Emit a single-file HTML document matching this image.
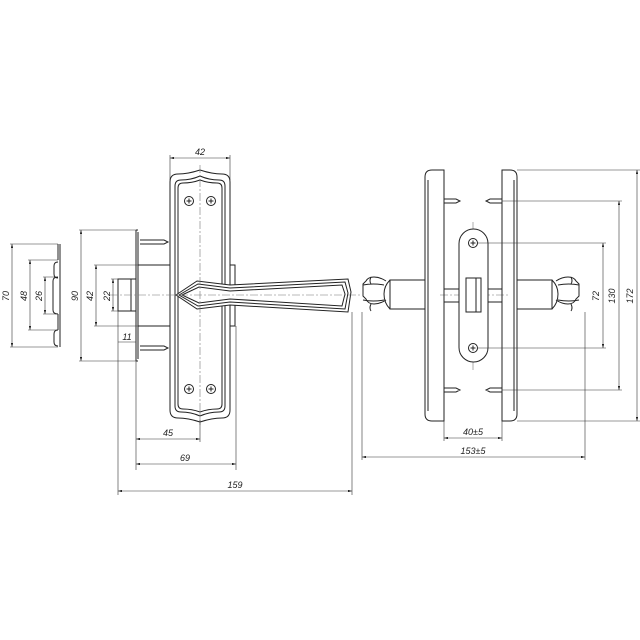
<!DOCTYPE html>
<html><head><meta charset="utf-8"><style>
html,body{margin:0;padding:0;background:#fff}
svg{display:block}
text{font-family:"Liberation Sans",sans-serif;font-style:italic;font-size:9px;fill:#222}
</style></head><body>
<svg width="640" height="640" viewBox="0 0 640 640" xmlns="http://www.w3.org/2000/svg">
<defs>
<marker id="a" viewBox="0 0 10 6" refX="10" refY="3" markerWidth="7" markerHeight="4" orient="auto-start-reverse"><path d="M0,0 L10,3 L0,6 z" fill="#222"/></marker>
<g id="scr"><circle r="4.5" fill="#fff" stroke="#222" stroke-width="1"/><path d="M-2.5,0H2.5M0,-2.5V2.5" stroke="#222" stroke-width="1"/></g>
</defs>
<g fill="none" stroke="#222" stroke-width="1">
<path d="M60,244 V347 M58,244 V260 M58,262 q-4,0 -4,4 v8 q0,4 4,4 M58,277 q-5,0 -5,4 v29 q0,4 5,4 M58,314 V330 M58,330 q-4,0 -4,4 v8 q0,4 4,4"/>
<path d="M170,182 q0,-8 8,-8 q10,0 22,-4 q12,4 22,4 q8,0 8,8 V410 q0,8 -8,8 q-10,0 -22,4 q-12,-4 -22,-4 q-8,0 -8,-8 Z"/>
<path d="M175,186 q0,-6 6,-6 q10,0 19,-4 q9,4 19,4 q6,0 6,6 V406 q0,6 -6,6 q-10,0 -19,4 q-9,-4 -19,-4 q-6,0 -6,-6 Z"/>
<path d="M178,188 q0,-5 5,-5 q9,0 17,-3 q8,3 17,3 q5,0 5,5 V404 q0,5 -5,5 q-9,0 -17,3 q-8,-3 -17,-3 q-5,0 -5,-5 Z"/>
<path d="M230,265 h5 v61 h-5"/>
<path d="M136,230 V361 M138,232 V359 M136,230 h2 M136,361 h2"/>
<path d="M140,240 H164 l4,2 l-4,2 H140 M140,346 H164 l4,2 l-4,2 H140"/>
<path d="M138,265 H170 M138,326 H170 M118,279 H136 V311 H118 Z M131,279 V311"/>
<path d="M176,295 L197,281 L230,285 L348,279 L351,292 L348,312 L230,305 L197,309 Z" fill="#fff"/>
<path d="M179,295 L198,284 L230,288 L345,282 L348,293 L345,309 L230,302 L198,306 Z"/>
<path d="M182,295 L199,287 L230,291 L342,285 L345,294 L342,306 L230,299 L199,303 Z"/>
</g>
<use href="#scr" x="189" y="201"/><use href="#scr" x="211" y="201"/>
<use href="#scr" x="189" y="389"/><use href="#scr" x="211" y="389"/>
<g stroke="#777" stroke-width="0.6" stroke-dasharray="8,2,2,2" fill="none">
<path d="M200,165 V425 M110,295 H360"/>
<path d="M473,222 V370 M440,295 H510"/>
</g>
<g stroke="#333" stroke-width="0.6" fill="none">
<path d="M10,244 H58 M10,347 H58 M28,260 H58 M28,330 H58 M43,277 H56 M43,314 H56"/>
<path d="M79,230 H136 M79,361 H136 M94,265 H138 M94,326 H138 M111,279 H118 M111,311 H118"/>
<path d="M170,155 V180 M230,155 V180"/>
<path d="M118,311 V495 M136,361 V470 M236,326 V470 M200,420 V442 M352,312 V495"/>
<path d="M12,244 V347" marker-start="url(#a)" marker-end="url(#a)"/>
<path d="M30,260 V330" marker-start="url(#a)" marker-end="url(#a)"/>
<path d="M45,277 V314" marker-start="url(#a)" marker-end="url(#a)"/>
<path d="M81,230 V361" marker-start="url(#a)" marker-end="url(#a)"/>
<path d="M96,265 V326" marker-start="url(#a)" marker-end="url(#a)"/>
<path d="M113,279 V311" marker-start="url(#a)" marker-end="url(#a)"/>
<path d="M170,158 H230" marker-start="url(#a)" marker-end="url(#a)"/>
<path d="M118,342 H136"/>
<path d="M136,439 H200" marker-start="url(#a)" marker-end="url(#a)"/>
<path d="M136,464 H236" marker-start="url(#a)" marker-end="url(#a)"/>
<path d="M118,491 H352" marker-start="url(#a)" marker-end="url(#a)"/>
</g>
<text transform="translate(9,296) rotate(-90)" text-anchor="middle">70</text>
<text transform="translate(27,296) rotate(-90)" text-anchor="middle">48</text>
<text transform="translate(42,296) rotate(-90)" text-anchor="middle">26</text>
<text transform="translate(78,296) rotate(-90)" text-anchor="middle">90</text>
<text transform="translate(93,296) rotate(-90)" text-anchor="middle">42</text>
<text transform="translate(110,296) rotate(-90)" text-anchor="middle">22</text>
<text x="200" y="155" text-anchor="middle">42</text>
<text x="127" y="340" text-anchor="middle">11</text>
<text x="168" y="436" text-anchor="middle">45</text>
<text x="185" y="461" text-anchor="middle">69</text>
<text x="235" y="488" text-anchor="middle">159</text>
<g fill="none" stroke="#222" stroke-width="1">
<path d="M444,170 H432 q-7,0 -7,7 V414 q0,7 7,7 H444 Z M428,180 V411"/>
<path d="M502,170 H510 q7,0 7,7 V414 q0,7 -7,7 H502 Z M514,180 V411"/>
<path d="M444,289 H459 M488,289 H502 M444,302 H459 M488,302 H502"/>
<path d="M444,199 H456 l4,2 l-4,2 H444 M502,199 H490 l-4,2 l4,2 H502 M444,388 H456 l4,2 l-4,2 H444 M502,388 H490 l-4,2 l4,2 H502"/>
<rect x="459" y="229" width="29" height="133" rx="14.5" fill="#fff"/>
<rect x="466" y="278" width="15" height="34" fill="#fff"/>
<path d="M476,278 V312"/>
<!-- left knob -->
<path d="M425,280 H390 V309 H425"/>
<path d="M390,280 q-6,6 -6,14 q0,9 6,15"/>
<path d="M386,281 q-6,-4 -12,-4 q-6,0 -8,4 l-3,3 v12 l3,3 q2,5 8,5 q6,0 12,-4"/>
<path d="M363,285 q10,-2 21,0 M363,300 q10,2 21,0 M371,277 q-2,4 0,7 M371,304 q-2,4 0,7"/>
<!-- right knob -->
<path d="M517,280 H552 V309 H517"/>
<path d="M552,280 q6,6 6,14 q0,9 -6,15"/>
<path d="M556,281 q6,-4 12,-4 q6,0 8,4 l3,3 v12 l-3,3 q-2,5 -8,5 q-6,0 -12,-4"/>
<path d="M579,285 q-10,-2 -21,0 M579,300 q-10,2 -21,0 M571,277 q2,4 0,7 M571,304 q2,4 0,7"/>
</g>
<use href="#scr" x="473" y="243"/><use href="#scr" x="473" y="348"/>
<g stroke="#333" stroke-width="0.6" fill="none">
<path d="M517,170 H640 M517,421 H640 M502,201 H622 M502,390 H622 M478,243 H606 M478,348 H606"/>
<path d="M444,421 V441 M502,421 V441 M362,312 V460 M585,312 V460"/>
<path d="M603,243 V348" marker-start="url(#a)" marker-end="url(#a)"/>
<path d="M619,201 V390" marker-start="url(#a)" marker-end="url(#a)"/>
<path d="M637,170 V421" marker-start="url(#a)" marker-end="url(#a)"/>
<path d="M444,438 H502" marker-start="url(#a)" marker-end="url(#a)"/>
<path d="M362,457 H585" marker-start="url(#a)" marker-end="url(#a)"/>
</g>
<text transform="translate(599,296) rotate(-90)" text-anchor="middle">72</text>
<text transform="translate(615,296) rotate(-90)" text-anchor="middle">130</text>
<text transform="translate(633,296) rotate(-90)" text-anchor="middle">172</text>
<text x="473" y="435" text-anchor="middle">40±5</text>
<text x="473" y="454" text-anchor="middle">153±5</text>
</svg>
</body></html>
